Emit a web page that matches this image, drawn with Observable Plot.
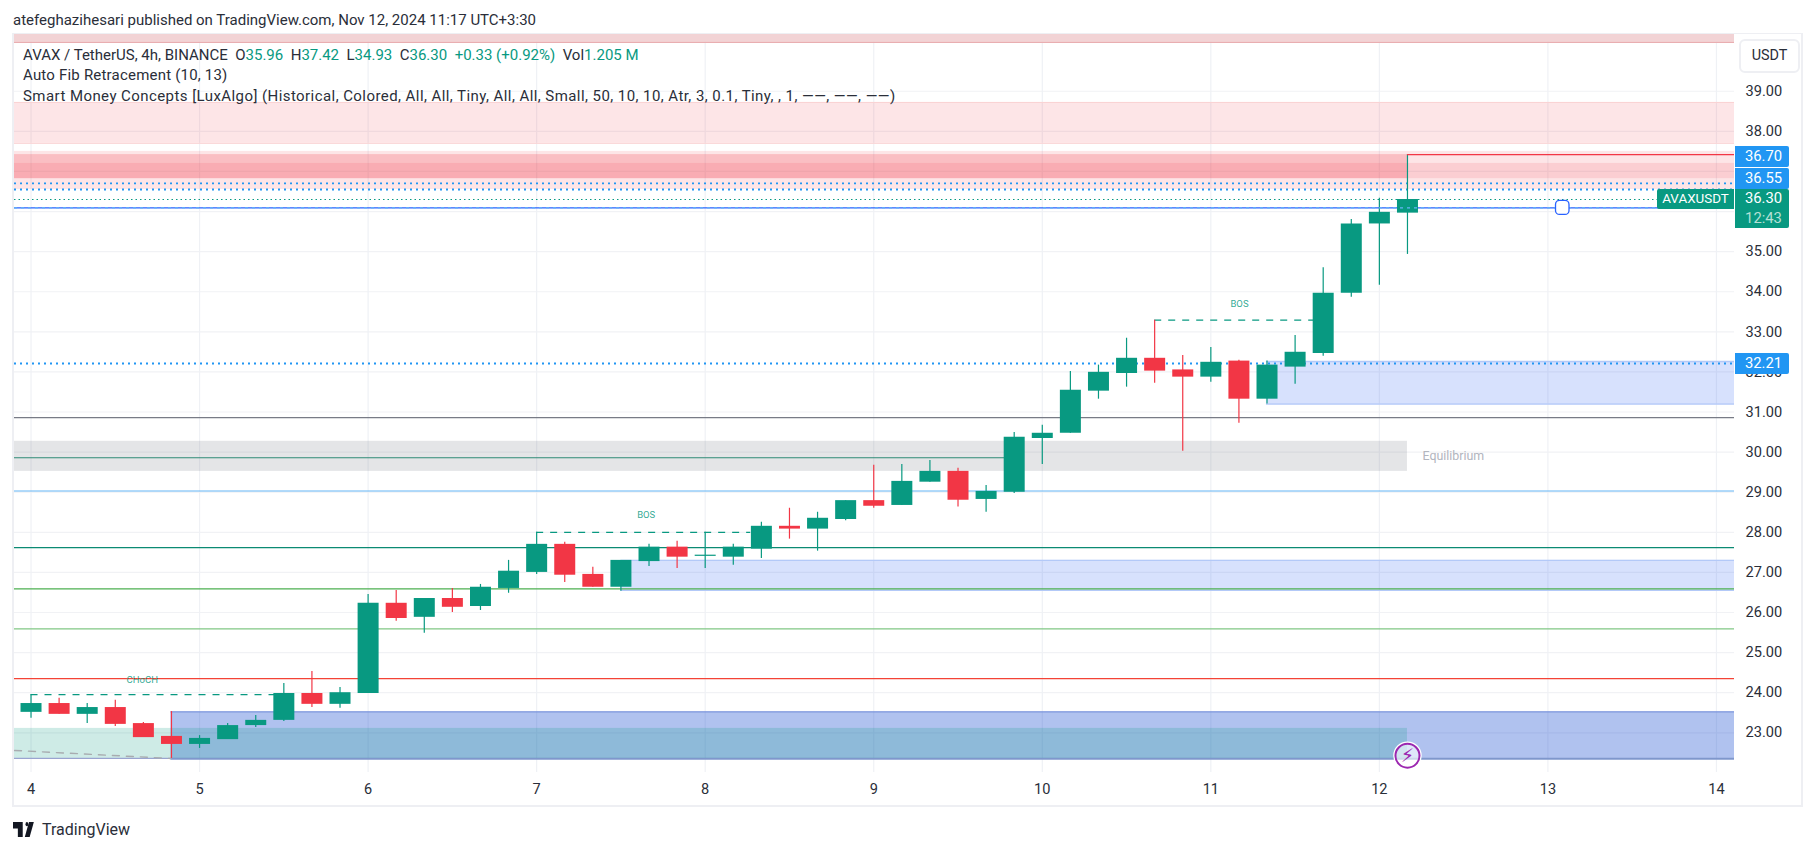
<!DOCTYPE html>
<html><head><meta charset="utf-8">
<script src="https://cdn.jsdelivr.net/npm/d3@7"></script>
<script src="https://cdn.jsdelivr.net/npm/@observablehq/plot@0.6"></script>
<style>
html,body{margin:0;padding:0;background:#fff;overflow:hidden}
#wrap{position:relative;width:1814px;height:851px;font-family:Roboto,sans-serif;color:#131722;overflow:hidden}
#chart{position:absolute;left:0;top:34px}
#chart svg{display:block;background:transparent}
.abs{position:absolute;white-space:nowrap}
.lg{left:23px;font-size:15px;line-height:20px;color:#2a2e39}
.v{color:#089981}
.price{left:1735px;width:51px;padding-left:3px;text-align:center;color:#fff;font-size:14.8px;font-weight:400;border-radius:0 2px 2px 0}
</style></head><body><div id="wrap">
<div class="abs" style="left:13px;top:10px;font-size:15px;line-height:20px;color:#2a2e39">atefeghazihesari published on TradingView.com, Nov 12, 2024 11:17 UTC+3:30</div>
<div id="chart"></div>
<div class="abs" style="left:12px;top:33px;width:1787px;height:771px;border:2px solid #eeeff3;border-top-width:1.5px"></div>
<div class="abs lg" style="top:45px">AVAX / TetherUS, 4h, BINANCE&nbsp; O<span class="v">35.96</span>&nbsp; H<span class="v">37.42</span>&nbsp; L<span class="v">34.93</span>&nbsp; C<span class="v">36.30</span>&nbsp; <span class="v">+0.33 (+0.92%)</span>&nbsp; Vol<span class="v">1.205 M</span></div>
<div class="abs lg" style="top:65px;letter-spacing:.2px">Auto Fib Retracement (10, 13)</div>
<div class="abs lg" style="top:86px;letter-spacing:.43px">Smart Money Concepts [LuxAlgo] (Historical, Colored, All, All, Tiny, All, All, Small, 50, 10, 10, Atr, 3, 0.1, Tiny, , 1, ——, ——, ——)</div>
<div class="abs" style="left:1739px;top:39px;width:57px;height:30px;line-height:30px;text-align:center;border:2px solid #eeeff3;border-radius:6px;background:#fff;font-size:14.4px;color:#2a2e39">USDT</div>
<div class="abs price" style="top:146px;height:21px;line-height:21px;background:#2196f3">36.70</div>
<div class="abs price" style="top:168px;height:21px;line-height:21px;background:#2196f3">36.55</div>
<div class="abs price" style="top:189px;height:39px;line-height:19.5px;background:#089981">36.30<br><span style="color:#b5e0d6">12:43</span></div>
<div class="abs" style="left:1657px;top:189px;width:77px;height:20px;line-height:20px;text-align:center;background:#089981;color:#fff;font-size:13.4px;border-radius:2px 0 0 2px">AVAXUSDT</div>
<div class="abs price" style="top:353px;height:21px;line-height:21px;background:#2196f3">32.21</div>
<svg class="abs" style="left:13px;top:822px" width="25" height="15" viewBox="0 6 36 14" preserveAspectRatio="none" fill="#131722"><path d="M14 6H0v6h7v8h7V6Z"/><circle cx="20" cy="8" r="2"/><path d="M24 20 30 6h-7l-6 14h7Z"/></svg>
<div class="abs" style="left:42px;top:819px;font-size:16px;line-height:22px;color:#2a2e39">TradingView</div>
</div>
<script>
// ---- chart values ----
const opens  = [23.51,23.73,23.46,23.63,23.23,22.91,22.71,22.83,23.18,23.31,23.98,23.71,23.98,26.23,25.88,26.35,26.15,26.60,27.00,27.70,26.95,26.63,27.27,27.63,27.40,27.38,27.58,28.15,28.08,28.32,28.79,28.67,29.25,29.52,28.82,29.00,30.34,30.47,31.52,31.96,32.34,32.05,31.87,32.27,31.32,32.12,32.46,33.96,35.69,35.96];
const highs  = [23.95,23.86,23.73,23.81,23.26,23.53,22.93,23.23,23.43,24.23,24.53,24.13,26.45,26.55,26.35,26.60,26.70,27.30,28.00,27.75,27.13,27.30,27.70,27.78,28.00,27.70,28.25,28.60,28.50,28.79,29.67,29.69,29.79,29.60,29.17,30.49,30.67,32.01,32.17,32.84,33.29,32.41,32.61,32.29,32.27,32.91,34.60,35.80,36.33,37.42];
const lows   = [23.36,23.46,23.23,23.16,22.88,22.36,22.61,22.83,23.13,23.28,23.63,23.61,23.98,25.78,25.48,26.00,26.05,26.48,26.95,26.75,26.63,26.53,27.15,27.10,27.10,27.18,27.35,27.83,27.53,28.29,28.60,28.67,29.25,28.63,28.50,28.97,29.69,30.47,31.32,31.62,31.72,30.02,31.74,30.72,31.20,31.69,32.39,33.86,34.16,34.93];
const closes = [23.73,23.46,23.63,23.21,22.88,22.71,22.86,23.18,23.31,23.98,23.71,24.00,26.23,25.85,26.35,26.13,26.63,27.03,27.70,26.93,26.63,27.30,27.63,27.38,27.43,27.63,28.15,28.08,28.35,28.79,28.65,29.27,29.52,28.80,29.02,30.37,30.47,31.54,31.99,32.34,32.02,31.87,32.24,31.32,32.17,32.49,33.96,35.69,35.98,36.30];
const gridPrices = d3.range(23, 40);
const labelledPrices = [23,24,25,26,27,28,29,30,31,32,33,34,35,38,39];
const dayTicks = d3.range(4, 15);

const fibLevels = [30.86, 29.03, 27.62, 26.59, 25.59, 24.35];
const topBand = [40.22, 40.415];
const supplyUpper = [37.70, 38.72];
const supplyLower = [36.55, 37.50];
const supplyInner = [36.82, 37.20];
const supplyActive = [36.82, 37.42];
const demandA = [31.20, 32.26, 11.33];
const demandB = [26.55, 27.30, 7.5];
const demandC = [22.35, 23.52, 4.83];
const discount = [22.36, 23.11];
const equilibrium = [29.52, 30.27];
const equilibriumLine = 29.86;
const dottedLevels = [36.70, 36.55, 32.21];
const lastPrice = 36.30;
const alertPrice = 36.09;
const lastHigh = 37.42;
const structureLevels = [23.95, 28.00, 33.29];
const structureStart = [4, 7, 10.667];
const structureEnd = [5.45, 8.27, 11.62];
const structureNames = ["CHoCH", "BOS", "BOS"];
const structureLabelDay = [4.66, 7.65, 11.17];
const structureLabelPrice = [24.32, 28.43, 33.70];

// ---- time helpers ----
const dayToDate = d => new Date(Date.UTC(2024, 10, 1) + (d - 1) * 864e5);
const candles = opens.map((o, i) => ({
  t: new Date(Date.UTC(2024, 10, 4) + i * 4 * 36e5),
  o, h: highs[i], l: lows[i], c: closes[i],
  dir: closes[i] >= o ? "up" : "down"
}));
const xMin = dayToDate(3.902), xMax = dayToDate(14.107), lastBar = dayToDate(12.1667);
const GREEN = "#089981", RED = "#f23645", BLUE = "#2196f3";

const band = ([lo, hi], x1, x2, opts) => Plot.rect([0], {x1, x2, y1: lo, y2: hi, ...opts});
const hline = (v, x1, x2, opts) => Plot.ruleY([v], {x1, x2, ...opts});
const fibStrokes = ["#787b86", "#64b5f6", "#0b8a73", "#4caf50", "#81c784", "#f44336"];

const plot = Plot.plot({
  width: 1814, height: 772,
  marginLeft: 14, marginRight: 80, marginTop: 0, marginBottom: 34,
  x: {type: "utc", domain: [xMin, xMax]},
  y: {domain: [22.01, 40.415]},
  color: {domain: ["up", "down"], range: [GREEN, RED]},
  style: {fontFamily: "Roboto, sans-serif", fontSize: "14.6px", background: "transparent", color: "#2a2e39"},
  marks: [
    Plot.ruleY(gridPrices, {stroke: "#f1f2f5", strokeWidth: 1.2}),
    Plot.ruleX(dayTicks.map(dayToDate), {stroke: "#eff1f5", strokeWidth: 1.2}),
    Plot.axisY(labelledPrices, {anchor: "right", tickSize: 0, tickPadding: 11, tickFormat: d3.format(".2f"), label: null, fill: "#2a2e39"}),
    Plot.axisX(dayTicks.map(dayToDate), {anchor: "bottom", tickSize: 0, tickPadding: 11, tickFormat: d3.utcFormat("%-d"), label: null, fill: "#2a2e39"}),

    // premium (red) zones
    band(topBand, xMin, xMax, {fill: "#f2d3d5"}),
    hline(topBand[0], xMin, xMax, {stroke: "#e9aeb1", strokeWidth: 1.2}),
    band(supplyUpper, xMin, xMax, {fill: RED, fillOpacity: 0.13}),
    hline(supplyUpper[0], xMin, xMax, {stroke: "#fad3d4", strokeWidth: 1}),
    hline(supplyUpper[1], xMin, xMax, {stroke: "#fad3d4", strokeWidth: 1}),
    band(supplyLower, xMin, xMax, {fill: RED, fillOpacity: 0.13}),
    band(supplyInner, xMin, xMax, {fill: RED, fillOpacity: 0.13}),
    band(supplyActive, xMin, lastBar, {fill: RED, fillOpacity: 0.22}),

    // demand (blue) zones
    band(demandA.slice(0, 2), dayToDate(demandA[2]), xMax, {fill: "#2157f3", fillOpacity: 0.18}),
    hline(demandA[0], dayToDate(demandA[2]), xMax, {stroke: "#b3c9f8", strokeWidth: 1.3}),
    hline(demandA[1], dayToDate(demandA[2]), xMax, {stroke: "#b3c9f8", strokeWidth: 1.3}),
    band(demandB.slice(0, 2), dayToDate(demandB[2]), xMax, {fill: "#2157f3", fillOpacity: 0.18}),
    hline(demandB[0], dayToDate(demandB[2]), xMax, {stroke: "#b3c9f8", strokeWidth: 1.3}),
    hline(demandB[1], dayToDate(demandB[2]), xMax, {stroke: "#b3c9f8", strokeWidth: 1.3}),
    band(demandC.slice(0, 2), dayToDate(demandC[2]), xMax, {fill: "#1e4fd0", fillOpacity: 0.35}),
    hline(demandC[1], dayToDate(demandC[2]), xMax, {stroke: "#7f97dd", strokeWidth: 1.3}),
    hline(demandC[0], dayToDate(demandC[2]), xMax, {stroke: "#7f97cc", strokeWidth: 2}),
    band(discount, xMin, lastBar, {fill: GREEN, fillOpacity: 0.2}),
    hline(discount[0], xMin, dayToDate(demandC[2]), {stroke: "#9aa4d0", strokeWidth: 1.2}),
    Plot.line([[xMin, 22.56], [dayToDate(demandC[2]), 22.36]], {stroke: "#a8acb0", strokeWidth: 1.4, strokeDasharray: "7,7"}),

    // equilibrium
    band(equilibrium, xMin, lastBar, {fill: "#787b86", fillOpacity: 0.2}),
    hline(equilibriumLine, xMin, dayToDate(9.83), {stroke: "#2e8a76", strokeWidth: 1.15}),
    Plot.text(["Equilibrium"], {x: dayToDate(12.256), y: 29.89, text: d => d, textAnchor: "start", fill: "#b2b5be", fontSize: 12.4}),

    // fib levels
    ...fibLevels.map((v, i) => hline(v, xMin, xMax, {stroke: fibStrokes[i], strokeWidth: 1.15})),

    // level dots
    ...dottedLevels.map(v => hline(v, xMin, xMax, {stroke: BLUE, strokeWidth: 1.8, strokeDasharray: "2,4"})),
    hline(lastPrice, xMin, xMax, {stroke: GREEN, strokeWidth: 1, strokeDasharray: "1.5,3"}),
    hline(alertPrice, xMin, xMax, {stroke: "#2962ff", strokeWidth: 1.1}),

    // structure breaks
    ...structureLevels.map((v, i) => hline(v, dayToDate(structureStart[i]), dayToDate(structureEnd[i]), {stroke: GREEN, strokeWidth: 1.3, strokeDasharray: "7,7"})),
    ...structureNames.map((s, i) => Plot.text([s], {x: dayToDate(structureLabelDay[i]), y: structureLabelPrice[i], text: d => d, fill: GREEN, fillOpacity: 0.85, fontSize: 9.5})),

    // candles
    Plot.ruleX(candles, {x: "t", y1: "l", y2: "h", stroke: "dir", strokeWidth: 1.2}),
    Plot.ruleX(candles, {x: "t", y1: "o", y2: "c", stroke: "dir", strokeWidth: 21}),

    hline(lastHigh, lastBar, xMax, {stroke: RED, strokeWidth: 1.2}),
    hline(alertPrice, xMin, xMax, {stroke: "#64b5f6", strokeWidth: 1.2, strokeDasharray: "3,4"}),

    // alert handle and event marker
    Plot.rect([0], {x1: dayToDate(13.048), x2: dayToDate(13.128), y1: alertPrice - 0.175, y2: alertPrice + 0.175, fill: "#fff", stroke: "#2962ff", strokeWidth: 1.3, rx: 4}),
    Plot.dot([0], {x: lastBar, y: 22.43, r: 13.5, fill: "#fff", fillOpacity: 0.6, stroke: "#fff", strokeWidth: 1.5}),
    Plot.dot([0], {x: lastBar, y: 22.43, r: 12, fill: "none", stroke: "#9c27b0", strokeWidth: 2}),
    Plot.text(["⚡"], {x: lastBar, y: 22.43, text: d => d, fill: "#9c27b0", fontSize: 19, fontFamily: "DejaVu Sans"})
  ]
});
document.getElementById("chart").appendChild(plot);
</script>
</body></html>
